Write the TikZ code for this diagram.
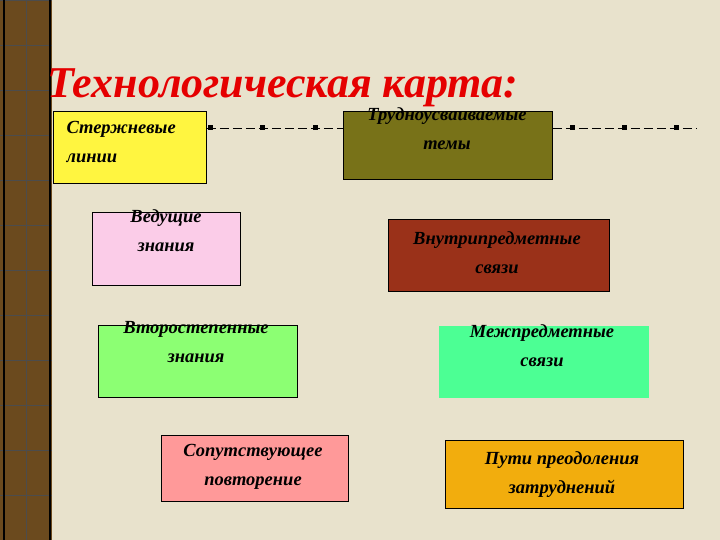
\documentclass[tikz,border=0pt]{standalone}
\usepackage{fontspec}
\setmainfont{Liberation Serif}
\definecolor{bg}{HTML}{E8E2CC}
\definecolor{wood}{HTML}{6B4A1E}
\begin{document}
\begin{tikzpicture}[x=1pt,y=-1pt,
  bx/.style={draw=black,line width=0.8pt,inner sep=0pt,anchor=north west},
  txt/.style={font=\bfseries\itshape\fontsize{18.5}{29}\selectfont,align=center},
  sq/.style={fill=black,minimum size=5pt,inner sep=0pt},
  dl/.style={dashed,dash pattern=on 9pt off 4pt,line width=0.8pt}]
\useasboundingbox (0,0) rectangle (720,540);
\fill[bg] (0,0) rectangle (720,540);
\fill[wood] (0,0) rectangle (52,540);
\foreach \y in {0,45,...,540} \draw[black!70,line width=0.8pt] (0,\y) -- (52,\y);
\draw[black!70,line width=0.8pt] (26,0) -- (26,540);
\draw[black,line width=2pt] (4,0) -- (4,540) (50,0) -- (50,540);
\node[anchor=base west,text=red!90!black,font=\bfseries\itshape\fontsize{44}{50}\selectfont] (title) at (44,98) {Технологическая карта:};
\node[bx,fill=yellow!75!white,minimum width=153pt,minimum height=72pt] (b1) at (53,111) {};
\node[txt,align=left,anchor=north west] at (63,118) {Стержневые\\ линии};
\node[bx,fill=olive!80!black,minimum width=209pt,minimum height=68pt] (b2) at (343,111) {};
\node[txt,anchor=north] at (447,104) {Трудноусваиваемые\\темы};
\node[bx,fill=magenta!20!white,minimum width=148pt,minimum height=73pt] (b3) at (92,212) {};
\node[txt,anchor=north] at (166,206) {Ведущие\\знания};
\node[bx,fill=red!45!brown!70!black,minimum width=221pt,minimum height=72pt] (b4) at (388,219) {};
\node[txt,anchor=north] at (497,228) {Внутрипредметные\\связи};
\node[bx,fill=green!50!white!90!yellow,minimum width=199pt,minimum height=72pt] (b5) at (98,325) {};
\node[txt,anchor=north] at (196,318) {Второстепенные\\знания};
\node[bx,fill=green!60!cyan!70!white,draw=none,minimum width=210pt,minimum height=72pt] (b6) at (439,326) {};
\node[txt,anchor=north] at (542,321) {Межпредметные\\связи};
\node[bx,fill=red!40!white,minimum width=187pt,minimum height=66pt] (b7) at (161,435) {};
\node[txt,anchor=north] at (253,441) {Сопутствующее\\повторение};
\node[bx,fill=orange!55!yellow!80!brown,minimum width=238pt,minimum height=68pt] (b8) at (445,440) {};
\node[txt,anchor=north] at (562,448) {Пути преодоления\\затруднений};
\coordinate (e1) at (343,128);
\coordinate (e2) at (696,128);
\draw[dl] (b1.north east |- e1) -- (e1);
\draw[dl] (b2.north east |- e2) -- (e2);
\foreach \x in {210,262,315,572,624,676} \node[sq] at (\x,128) {};
\end{tikzpicture}
\end{document}
